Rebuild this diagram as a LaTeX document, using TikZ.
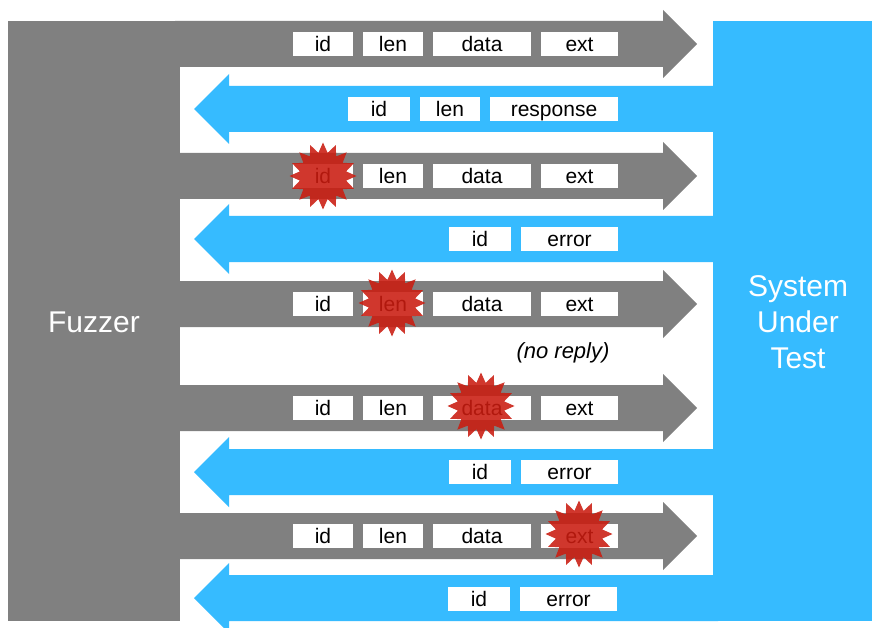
\documentclass[tikz,border=0pt]{standalone}
\usepackage{fontspec}
\setmainfont{Liberation Sans}
\usetikzlibrary{shapes.geometric}
\definecolor{fgray}{HTML}{808080}
\definecolor{sblue}{HTML}{36BBFF}
\definecolor{bang}{RGB}{202,28,16}
\newcommand\grayarrow[1]{\fill[fgray] (175,#1-23) -- (663,#1-23) -- (663,#1-34) -- (697,#1) -- (663,#1+34) -- (663,#1+23) -- (175,#1+23) -- cycle;}
\newcommand\bluearrow[1]{\fill[sblue] (718,#1-23) -- (229,#1-23) -- (229,#1-35) -- (194,#1) -- (229,#1+35) -- (229,#1+23) -- (718,#1+23) -- cycle;}
\begin{document}
\begin{tikzpicture}[x=1pt,y=-1pt,
  field/.style={fill=white, inner xsep=0pt, inner ysep=4.5pt, text height=15pt, text depth=0pt,
    font=\fontsize{21}{24}\selectfont, text=black},
  fid/.style={field, minimum width=60pt},
  flen/.style={field, minimum width=60pt},
  fdata/.style={field, minimum width=98pt},
  fext/.style={field, minimum width=77pt},
  bid/.style={field, minimum width=62pt},
  berr/.style={field, minimum width=97pt},
  bang/.style={star, star points=16, star point ratio=1.42, minimum size=67pt, inner sep=0pt,
    fill=bang, fill opacity=0.88, draw=none},
  party/.style={text=white, font=\fontsize{30}{36}\selectfont, align=center}]
\useasboundingbox (0,0) rectangle (872,628);
\fill[white] (0,0) rectangle (872,628);
% big blocks
\fill[fgray] (8,21) rectangle (180,621);
\fill[sblue] (713,21) rectangle (872,621);
% arrows
\grayarrow{44}
\bluearrow{109}
\grayarrow{176}
\bluearrow{239}
\grayarrow{304}
\grayarrow{408}
\bluearrow{472}
\grayarrow{536}
\bluearrow{598}
% row 1
\node[fid]   (r1id)   at (323,44)   {id};
\node[flen]  (r1len)  at (393,44)   {len};
\node[fdata] (r1data) at (482,44)   {data};
\node[fext]  (r1ext)  at (579.5,44) {ext};
% row 2
\node[bid]   (r2id)   at (379,109) {id};
\node[flen]  (r2len)  at (450,109) {len};
\node[field, minimum width=128pt] (r2resp) at (554,109) {response};
% row 3
\node[fid]   (r3id)   at (323,176)   {id};
\node[flen]  (r3len)  at (393,176)   {len};
\node[fdata] (r3data) at (482,176)   {data};
\node[fext]  (r3ext)  at (579.5,176) {ext};
% row 4
\node[bid]   (r4id)   at (480,239)   {id};
\node[berr]  (r4err)  at (569.5,239) {error};
% row 5
\node[fid]   (r5id)   at (323,304)   {id};
\node[flen]  (r5len)  at (393,304)   {len};
\node[fdata] (r5data) at (482,304)   {data};
\node[fext]  (r5ext)  at (579.5,304) {ext};
% row 6
\node[font=\fontsize{22}{26}\selectfont\itshape] (noreply) at (563,353) {(no reply)};
% row 7
\node[fid]   (r7id)   at (323,408)   {id};
\node[flen]  (r7len)  at (393,408)   {len};
\node[fdata] (r7data) at (482,408)   {data};
\node[fext]  (r7ext)  at (579.5,408) {ext};
% row 8
\node[bid]   (r8id)   at (480,472)   {id};
\node[berr]  (r8err)  at (569.5,472) {error};
% row 9
\node[fid]   (r9id)   at (323,536)   {id};
\node[flen]  (r9len)  at (393,536)   {len};
\node[fdata] (r9data) at (482,536)   {data};
\node[fext]  (r9ext)  at (579.5,536) {ext};
% row 10
\node[bid]   (r10id)  at (479,599)   {id};
\node[berr]  (r10err) at (568.5,599) {error};
% mutation bursts
\node[bang] (b1) at (323,176) {};
\node[bang] (b2) at (392,303) {};
\node[bang] (b3) at (481,406) {};
\node[bang] (b4) at (579,534) {};
% parties
\node[party] (fuzzer) at (94,322) {Fuzzer};
\node[party] (sut) at (798,322) {System\\Under\\Test};
\end{tikzpicture}
\end{document}
